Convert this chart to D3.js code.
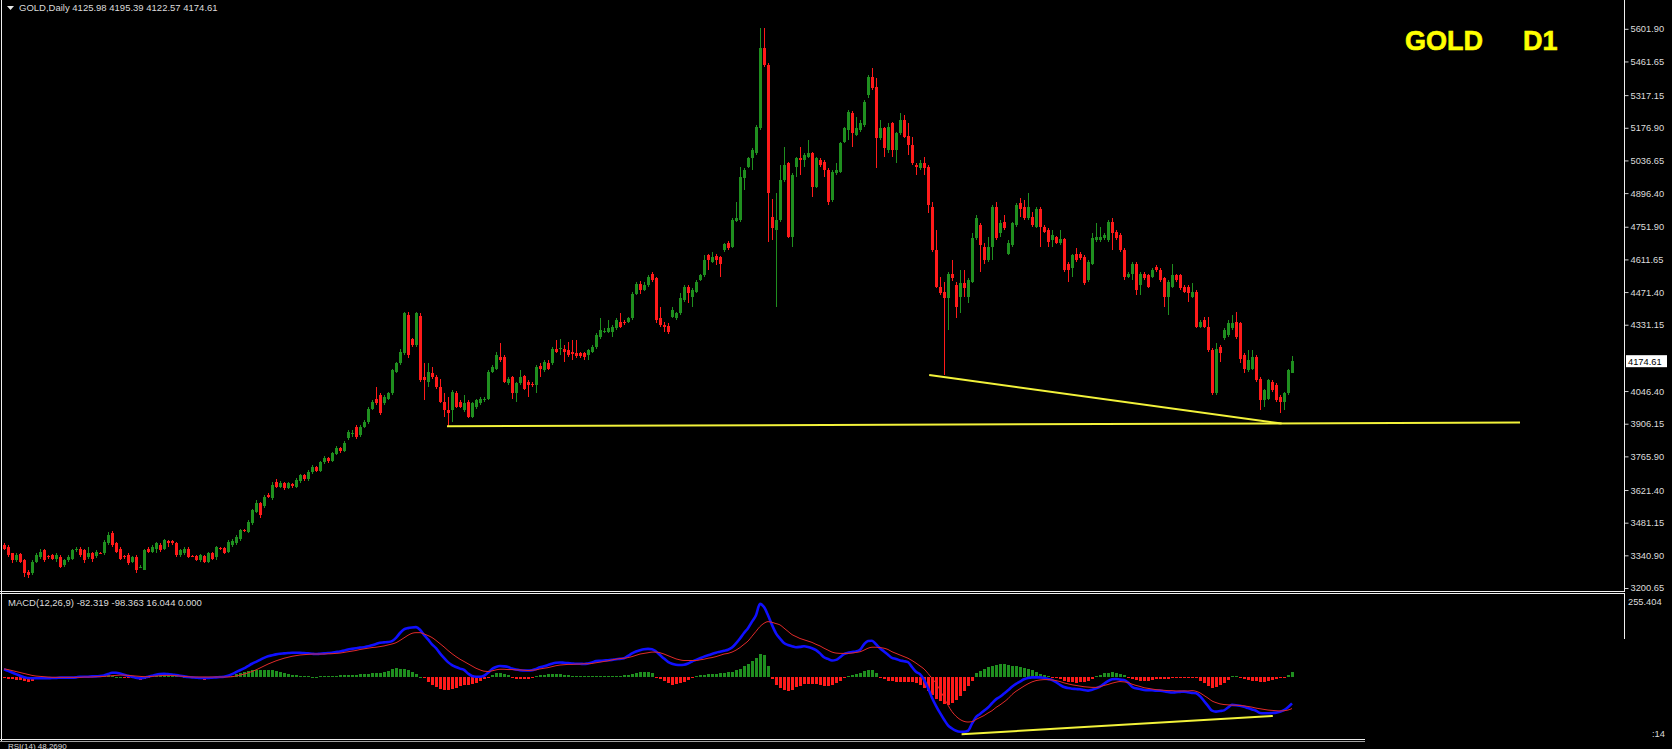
<!DOCTYPE html>
<html><head><meta charset="utf-8">
<script src="https://cdn.jsdelivr.net/npm/d3@7"></script>
<style>html,body{margin:0;padding:0;background:#000;overflow:hidden}svg{display:block}</style>
</head><body>
<script>
// ---------- DATA ----------
const symbolTitle = "GOLD,Daily";
const lastQuote = ["4125.98","4195.39","4122.57","4174.61"];
const macdTitle = "MACD(12,26,9) -82.319 -98.363 16.044 0.000";
const priceTicks = [5601.90,5461.65,5317.15,5176.90,5036.65,4896.40,4751.90,4611.65,4471.40,4331.15,4046.40,3906.15,3765.90,3621.40,3481.15,3340.90,3200.65];
const lastPrice = 4174.61;

const opens = [
3385,3378,3349,3320,3346,3320,3270,3263,3313,3335,
3363,3338,3342,3327,3335,3299,3320,3327,3363,3370,
3363,3335,3349,3338,3352,3349,3392,3435,3392,3370,
3338,3342,3313,3335,3289,3280,3366,3356,3370,3385,
3368,3402,3402,3392,3342,3349,3370,3340,3338,3320,
3338,3313,3352,3335,3372,3373,3356,3385,3392,3409,
3449,3442,3478,3528,3564,3552,3600,3585,3657,3635,
3650,3632,3647,3635,3660,3685,3668,3698,3720,3705,
3740,3760,3748,3778,3800,3790,3843,3860,3893,3857,
3893,3914,3971,4014,4029,3993,4014,4036,4129,4165,
4208,4372,4268,4244,4368,4107,4086,4122,4107,4065,
4000,3964,3964,4039,4000,3964,4000,3936,3979,3993,
4007,4014,4129,4143,4193,4193,4079,4107,4036,4079,
4110,4086,4078,4072,4153,4136,4165,4165,4229,4228,
4229,4222,4215,4211,4208,4208,4201,4215,4236,4279,
4303,4301,4301,4315,4344,4344,4344,4358,4465,4508,
4482,4501,4549,4530,4360,4330,4325,4366,4358,4380,
4437,4494,4451,4473,4525,4544,4630,4602,4626,4620,
4652,4683,4666,4778,4781,4960,5010,5045,5067,5174,
5518,5446,4795,4738,4781,4952,5024,4709,5010,5045,
5038,5053,5067,4924,5038,5031,4995,4866,4981,4988,
5117,5167,5242,5146,5167,5189,5317,5396,5353,5131,
5174,5081,5196,5081,5153,5210,5141,5103,5017,5003,
5024,5010,4838,4652,4494,4473,4444,4551,4502,4451,
4509,4451,4516,4702,4759,4666,4609,4666,4838,4723,
4773,4637,4673,4759,4852,4838,4788,4795,4752,4830,
4752,4738,4695,4706,4680,4698,4594,4573,4637,4637,
4623,4523,4594,4695,4695,4702,4695,4773,4730,4716,
4652,4537,4551,4594,4502,4551,4544,4537,4580,4566,
4530,4451,4494,4544,4544,4494,4494,4451,4473,4322,
4351,4322,4222,4036,4236,4273,4287,4315,4344,4337,
4200,4136,4143,4193,4100,4007,4014,4086,4072,4022,
4000,4036,4125.98];

const highs = [
3392,3385,3352,3349,3352,3327,3277,3320,3349,3368,
3370,3342,3346,3349,3342,3327,3342,3370,3378,3378,
3366,3375,3356,3363,3356,3406,3442,3445,3399,3375,
3342,3349,3338,3342,3299,3366,3375,3385,3399,3392,
3413,3406,3406,3399,3370,3375,3378,3342,3342,3346,
3342,3356,3356,3380,3378,3378,3406,3409,3428,3456,
3456,3492,3542,3578,3571,3600,3607,3657,3668,3662,
3657,3657,3652,3675,3692,3690,3706,3728,3725,3748,
3768,3765,3786,3812,3806,3832,3880,3880,3900,3900,
3920,3978,4007,4065,4036,4029,4043,4143,4172,4229,
4387,4385,4275,4387,4380,4165,4165,4148,4115,4100,
4036,4022,4050,4045,4007,4029,4007,4000,4014,4022,
4022,4136,4158,4215,4251,4200,4107,4110,4086,4136,
4115,4093,4086,4158,4165,4179,4179,4236,4265,4268,
4244,4258,4265,4265,4215,4215,4229,4244,4294,4358,
4315,4351,4330,4358,4380,4351,4365,4472,4516,4520,
4516,4545,4556,4537,4408,4345,4340,4408,4386,4466,
4501,4500,4488,4523,4551,4630,4637,4645,4633,4626,
4684,4690,4788,4860,5010,5003,5053,5088,5190,5604,
5604,5454,4873,4895,5017,5096,5030,4981,5053,5096,
5067,5124,5074,5053,5045,5038,5003,4995,5024,5117,
5181,5253,5250,5224,5210,5296,5403,5432,5389,5210,
5181,5196,5203,5160,5239,5232,5196,5138,5024,5038,
5053,5017,4859,4737,4537,4516,4559,4609,4516,4566,
4566,4530,4723,4802,4766,4680,4709,4845,4859,4781,
4802,4695,4773,4852,4874,4866,4895,4816,4838,4838,
4760,4745,4738,4713,4738,4705,4601,4637,4659,4645,
4630,4609,4723,4766,4752,4723,4781,4788,4737,4723,
4659,4559,4601,4601,4559,4559,4551,4573,4587,4573,
4537,4523,4594,4551,4551,4501,4501,4509,4480,4351,
4365,4365,4230,4251,4243,4315,4351,4372,4387,4344,
4208,4222,4222,4200,4107,4057,4100,4093,4079,4029,
4043,4143,4195.39];

const lows = [
3363,3335,3306,3313,3306,3249,3245,3256,3306,3327,
3313,3327,3320,3313,3285,3292,3313,3320,3356,3335,
3310,3327,3313,3330,3346,3342,3385,3378,3349,3320,
3327,3299,3306,3266,3285,3277,3349,3349,3349,3356,
3363,3378,3385,3335,3335,3342,3330,3332,3318,3313,
3306,3306,3320,3320,3363,3346,3349,3378,3385,3402,
3442,3435,3471,3521,3500,3545,3585,3578,3628,3628,
3620,3625,3632,3628,3652,3660,3662,3690,3698,3700,
3735,3738,3742,3772,3780,3785,3836,3850,3840,3850,
3886,3907,3964,3986,3943,3986,4007,4029,4122,4158,
4200,4190,4236,4236,4086,4007,4065,4100,4057,3993,
3936,3893,3914,3972,3972,3957,3929,3929,3971,3986,
4000,4007,4122,4136,4172,4079,4072,4014,4000,4072,
4050,4022,4065,4036,4107,4129,4136,4158,4208,4201,
4172,4193,4179,4190,4190,4179,4179,4208,4229,4272,
4294,4294,4279,4308,4315,4330,4337,4351,4458,4465,
4475,4494,4516,4340,4320,4300,4290,4358,4350,4372,
4430,4423,4408,4466,4518,4537,4566,4595,4587,4537,
4645,4652,4659,4771,4774,4909,5003,4995,5060,5167,
5440,4688,4695,4408,4774,4945,4702,4666,4967,4974,
5010,5046,4881,4917,5010,4967,4845,4859,4974,4981,
5110,5124,5096,5140,5160,5182,5303,5339,5003,5124,
5053,5067,5053,5024,5146,5131,5060,5017,4974,4995,
4974,4809,4645,4487,4458,4115,4308,4520,4358,4380,
4451,4423,4509,4695,4559,4594,4601,4609,4695,4709,
4738,4630,4666,4752,4795,4781,4781,4752,4745,4666,
4723,4666,4666,4677,4673,4559,4516,4537,4601,4609,
4502,4516,4587,4688,4688,4695,4688,4652,4695,4645,
4523,4530,4523,4458,4458,4523,4487,4530,4559,4516,
4408,4372,4487,4516,4480,4466,4430,4444,4315,4315,
4315,4215,4029,4029,4172,4265,4280,4308,4272,4165,
4122,4130,4136,4086,3964,3979,4007,4043,4000,3950,
3964,4029,4122.57];

const closes = [
3370,3342,3320,3342,3313,3263,3256,3313,3342,3356,
3320,3332,3325,3342,3292,3320,3335,3363,3370,3342,
3320,3352,3327,3356,3349,3399,3428,3385,3356,3327,
3332,3306,3332,3277,3292,3363,3356,3378,3392,3363,
3406,3395,3392,3342,3363,3368,3335,3336,3323,3342,
3313,3352,3327,3375,3370,3352,3399,3402,3418,3449,
3447,3485,3535,3564,3514,3592,3592,3643,3635,3652,
3628,3650,3638,3664,3685,3668,3700,3720,3705,3742,
3760,3748,3780,3800,3790,3825,3871,3868,3850,3893,
3914,3971,4000,3993,3950,4022,4036,4136,4165,4215,
4380,4201,4244,4380,4093,4093,4129,4107,4065,4000,
3964,3950,4043,3979,3979,3993,3936,3993,4007,4014,
4014,4129,4150,4201,4179,4086,4100,4036,4079,4107,
4057,4072,4074,4150,4139,4172,4143,4229,4215,4230,
4215,4201,4205,4196,4196,4193,4222,4236,4287,4308,
4306,4315,4322,4351,4322,4337,4358,4465,4508,4480,
4500,4537,4525,4351,4330,4320,4300,4394,4380,4444,
4494,4466,4480,4516,4544,4609,4609,4620,4609,4594,
4677,4659,4781,4788,4967,4995,5045,5081,5181,5518,
5446,4895,4745,4781,4952,5017,4709,4974,5045,5038,
5060,5067,4924,5045,5017,4995,4859,4988,4995,5110,
5174,5246,5153,5174,5196,5289,5396,5346,5131,5174,
5088,5181,5081,5153,5210,5138,5103,5024,5010,5024,
5003,4845,4652,4494,4466,4444,4551,4530,4408,4509,
4487,4523,4702,4788,4673,4609,4666,4838,4702,4766,
4745,4680,4766,4845,4830,4788,4838,4759,4830,4752,
4730,4688,4716,4684,4698,4566,4566,4630,4609,4616,
4509,4601,4702,4709,4709,4716,4773,4723,4702,4652,
4537,4551,4594,4480,4551,4530,4494,4566,4566,4523,
4451,4516,4544,4523,4487,4473,4466,4473,4322,4344,
4322,4222,4036,4229,4208,4308,4337,4337,4279,4186,
4143,4179,4193,4093,4007,4050,4093,4050,4007,4000,
4036,4136,4174.61];

const macdMain = [
23,18,13,8,3,-2,-4,-5,-5,-5,
-5,-5,-4,-4,-3,-3,-3,-3,-2,0,
0,0,1,1,2,4,8,12,12,10,
6,3,0,-3,-5,-3,0,3,6,8,
9,8,7,5,3,1,-1,-2,-3,-4,
-4,-4,-3,-2,-1,0,3,8,14,20,
26,33,40,46,52,58,63,66,69,71,
72,73,74,74,74,73,72,71,70,71,
72,73,74,76,78,81,84,86,88,90,
91,94,97,101,105,106,107,110,120,135,
146,150,152,153,145,129,115,100,88,72,
58,45,36,30,25,21,10,2,0,0,
3,12,24,30,33,32,30,25,22,20,
19,19,20,24,29,32,36,40,43,44,
43,42,41,40,40,39,41,44,48,49,
50,51,52,54,55,57,64,72,78,82,
85,86,85,78,67,56,46,40,37,36,
37,41,47,52,57,62,66,70,74,77,
80,83,90,103,118,135,150,170,190,225,
215,190,160,134,118,104,98,94,91,92,
94,92,88,82,72,60,55,50,52,60,
70,74,76,78,83,100,110,111,100,88,
78,68,58,55,50,48,45,30,15,8,
-10,-35,-65,-90,-112,-132,-150,-160,-167,-170,
-170,-167,-145,-125,-115,-105,-95,-82,-70,-62,
-52,-42,-31,-22,-15,-8,-4,-2,-2,-2,
-4,-7,-10,-17,-25,-32,-35,-37,-38,-39,
-41,-43,-40,-36,-31,-22,-14,-8,-7,-9,
-10,-18,-31,-36,-38,-41,-42,-42,-43,-43,
-45,-47,-49,-48,-47,-46,-48,-50,-51,-60,
-75,-90,-105,-108,-106,-104,-95,-87,-88,-90,
-93,-97,-101,-105,-112,-113,-113,-112,-111,-108,
-103,-94,-82.319];

const macdSignal = [
24,22,19,16,13,10,7,4,2,1,
0,-1,-2,-2,-2,-2,-2,-2,-2,-2,
-1,-1,-1,0,0,1,2,3,4,5,
5,4,3,2,1,0,0,1,2,3,
4,4,4,3,2,1,0,-1,-1,-1,
-1,-1,-1,-1,-1,-1,-1,0,2,5,
8,12,16,21,27,33,39,44,49,53,
57,60,63,65,67,68,69,70,70,70,
70,71,71,72,73,75,77,79,81,84,
86,88,90,91,93,95,98,101,105,112,
120,128,134,136,136,132,127,121,112,102,
92,81,71,62,54,47,40,33,26,21,
17,16,18,21,23,23,22,22,21,21,
20,19,20,21,24,26,28,31,34,36,
37,38,38,39,39,40,40,41,43,45,
47,49,52,54,56,57,59,62,66,70,
72,74,76,76,74,70,65,60,55,52,
50,50,50,50,52,54,57,59,62,66,
70,72,76,82,90,100,110,125,140,155,
165,170,168,164,160,150,140,130,124,118,
114,110,106,100,95,88,82,76,73,72,
72,72,73,75,77,82,88,91,91,90,
88,84,77,72,67,62,57,50,42,33,
24,10,-5,-20,-41,-64,-88,-108,-122,-132,
-138,-140,-139,-132,-126,-120,-112,-105,-95,-87,
-78,-68,-55,-45,-37,-29,-22,-16,-12,-10,
-9,-9,-10,-12,-15,-19,-22,-25,-27,-29,
-31,-32,-33,-33,-31,-27,-24,-20,-17,-15,
-16,-18,-23,-27,-30,-34,-36,-38,-40,-41,
-42,-43,-43,-44,-44,-44,-44,-43,-45,-50,
-58,-66,-75,-80,-84,-86,-87,-88,-88,-89,
-90,-92,-94,-97,-99,-101,-103,-104,-105,-106,
-105,-103,-98.363];

const macdHist = [
-4,-7,-8,-9,-11,-14,-17,-13,-7,-2,
-1,-1,0,-1,0,0,-1,0,0,1,
1,1,1,3,4,5,4,2,0,0,
-1,-1,-3,-8,-10,-8,-4,2,4,5,
5,4,3,2,1,0,0,-1,-4,-8,
-9,-7,-4,-1,0,1,2,3,8,12,
16,19,21,22,22,22,22,21,18,14,
10,7,5,4,3,2,1,0,0,1,
1,2,2,3,4,5,5,6,6,7,
8,9,10,12,12,14,18,24,28,25,
23,20,16,8,0,-5,-15,-25,-31,-38,
-40,-42,-38,-34,-30,-27,-26,-22,-18,-12,
-6,-1,6,10,10,8,4,-2,-6,-7,
-7,-6,-3,2,4,6,8,9,9,8,
6,4,3,2,1,1,1,2,2,2,
2,2,3,3,3,4,5,8,12,14,
15,14,12,-2,-8,-14,-20,-25,-23,-20,
-15,-10,-5,3,5,6,7,8,9,10,
11,13,16,20,25,32,40,48,58,70,
68,33,-8,-25,-35,-42,-45,-40,-33,-28,
-24,-22,-22,-24,-27,-30,-30,-27,-20,-12,
-5,3,6,9,12,18,22,21,10,-3,
-8,-12,-14,-16,-17,-17,-16,-17,-20,-25,
-35,-45,-58,-68,-76,-84,-87,-82,-72,-60,
-45,-30,-12,10,18,25,30,34,37,39,
38,36,34,32,30,28,25,20,14,9,
5,2,-1,-4,-8,-12,-15,-17,-18,-17,
-16,-12,-8,2,6,10,12,13,11,8,
4,-3,-8,-10,-12,-13,-12,-10,-8,-7,
-6,-6,-5,-4,-4,-4,-5,-5,-5,-12,
-20,-28,-34,-32,-25,-18,-10,3,2,-3,
-6,-9,-12,-14,-16,-15,-13,-11,-8,-5,
-3,4,16.044];

// hand-drawn lines: [candle index, price/value]
const supportIdx = [110.75, 379];
const supportPrice = [3895, 3911];
const fallIdx = [231.3, 319.4];
const fallPrice = [4115, 3907];
const macdTrendIdx = [239.4, 317.2];
const macdTrendVal = [-178, -121];

// ---------- DRAW ----------
const W = 1672, H = 749;
const FONT = "'Liberation Sans', Arial, sans-serif";
const UP = "#1f8f1f", DN = "#ff1a1a", TXT = "#dcdcdc";

const svg = d3.select("body").append("svg").attr("width", W).attr("height", H);
svg.append("rect").attr("width", W).attr("height", H).attr("fill", "#000");

const n = closes.length;
const x = d3.scaleLinear().domain([0, n - 1]).range([4, 1292]);
const y = d3.scaleLinear().domain([3200.65, 5601.90]).range([588, 28.8]);
const ym = d3.scaleLinear().domain([0, 255.404]).range([676.7, 594]);

const defs = svg.append("defs");
defs.append("clipPath").attr("id", "mainClip").append("rect").attr("x", 2).attr("y", 0).attr("width", 1622).attr("height", 591);
defs.append("clipPath").attr("id", "macdClip").append("rect").attr("x", 2).attr("y", 594).attr("width", 1622).attr("height", 145);

// candles
const main = svg.append("g").attr("clip-path", "url(#mainClip)").attr("shape-rendering", "crispEdges");
const idx = d3.range(n);
main.selectAll("line.wick").data(idx).join("line")
  .attr("x1", i => Math.round(x(i)) + 0.5).attr("x2", i => Math.round(x(i)) + 0.5)
  .attr("y1", i => y(highs[i])).attr("y2", i => y(lows[i]))
  .attr("stroke", i => closes[i] >= opens[i] ? UP : DN).attr("stroke-width", 1);
main.selectAll("rect.body").data(idx).join("rect")
  .attr("x", i => Math.round(x(i)) - 1).attr("width", 3)
  .attr("y", i => y(Math.max(opens[i], closes[i])))
  .attr("height", i => Math.max(1, Math.abs(y(opens[i]) - y(closes[i]))))
  .attr("fill", i => closes[i] >= opens[i] ? UP : DN);

// yellow trend lines
const lineGen = d3.line();
main.append("path").attr("d", lineGen(supportIdx.map((d, k) => [x(d), y(supportPrice[k])])))
  .attr("stroke", "#f2f23a").attr("stroke-width", 2).attr("fill", "none").attr("shape-rendering", "auto");
main.append("path").attr("d", lineGen(fallIdx.map((d, k) => [x(d), y(fallPrice[k])])))
  .attr("stroke", "#f2f23a").attr("stroke-width", 2).attr("fill", "none").attr("shape-rendering", "auto");

// price axis
const axis = d3.axisRight(y).tickValues(priceTicks).tickSize(4).tickPadding(2).tickFormat(d3.format(".2f"));
const ag = svg.append("g").attr("transform", "translate(1624.5,0)").call(axis);
ag.select(".domain").remove();
ag.selectAll(".tick line").attr("stroke", "#cfcfcf");
ag.selectAll(".tick text").attr("fill", TXT).style("font-family", FONT).style("font-size", "9.3px");

// current price label
const yl = y(lastPrice);
svg.append("rect").attr("x", 1626).attr("y", yl - 6).attr("width", 41).attr("height", 12).attr("fill", "#fff");
svg.append("text").attr("x", 1628).attr("y", yl + 3.5).text(d3.format(".2f")(lastPrice))
  .attr("fill", "#000").style("font-family", FONT).style("font-size", "9.3px");

// frames
const fr = svg.append("g").attr("stroke", "#f0f0f0").attr("stroke-width", 1).attr("shape-rendering", "crispEdges");
fr.append("line").attr("x1", 1.5).attr("x2", 1.5).attr("y1", 0).attr("y2", 741);
fr.append("line").attr("x1", 1624.5).attr("x2", 1624.5).attr("y1", 0).attr("y2", 591);
fr.append("line").attr("x1", 0).attr("x2", 1625).attr("y1", 591.5).attr("y2", 591.5);
fr.append("line").attr("x1", 0).attr("x2", 1625).attr("y1", 593.5).attr("y2", 593.5);
fr.append("line").attr("x1", 1624.5).attr("x2", 1624.5).attr("y1", 593).attr("y2", 639);
fr.append("line").attr("x1", 0).attr("x2", 1365).attr("y1", 739.5).attr("y2", 739.5);
fr.append("line").attr("x1", 0).attr("x2", 1365).attr("y1", 741.5).attr("y2", 741.5).attr("stroke", "#a0a0a0");

// MACD pane
const mg = svg.append("g").attr("clip-path", "url(#macdClip)");
mg.selectAll("rect.h").data(idx).join("rect")
  .attr("shape-rendering", "crispEdges")
  .attr("x", i => Math.round(x(i)) - 1).attr("width", 3)
  .attr("y", i => Math.min(ym(0), ym(macdHist[i])))
  .attr("height", i => Math.max(1, Math.abs(ym(macdHist[i]) - ym(0))))
  .attr("fill", i => macdHist[i] >= 0 ? UP : DN);
const mline = d3.line().x((d, i) => x(i)).y(d => ym(d)).curve(d3.curveMonotoneX);
mg.append("path").attr("d", mline(macdMain)).attr("fill", "none").attr("stroke", "#1010ff").attr("stroke-width", 2.6);
mg.append("path").attr("d", mline(macdSignal)).attr("fill", "none").attr("stroke", "#e02a2a").attr("stroke-width", 1);
mg.append("path").attr("d", lineGen(macdTrendIdx.map((d, k) => [x(d), ym(macdTrendVal[k])])))
  .attr("stroke", "#f2f23a").attr("stroke-width", 2).attr("fill", "none");

// texts
const t = svg.append("g").style("font-family", FONT);
t.append("path").attr("d", "M7,6 L14,6 L10.5,10 Z").attr("fill", "#e8e8e8");
t.append("text").attr("x", 19).attr("y", 11).attr("fill", TXT).style("font-size", "9.5px")
  .text(symbolTitle + "  " + lastQuote.join(" "));
t.append("text").attr("x", 8).attr("y", 606).attr("fill", TXT).style("font-size", "9.5px").text(macdTitle);
t.append("text").attr("x", 1628).attr("y", 604.5).attr("fill", TXT).style("font-size", "9.3px").text("255.404");
t.append("text").attr("x", 1652).attr("y", 736.5).attr("fill", TXT).style("font-size", "9.3px").text(":14");
t.append("text").attr("x", 8).attr("y", 748.5).attr("fill", TXT).style("font-size", "8px").text("RSI(14) 48.2690");
t.append("text").attr("x", 1405).attr("y", 50).attr("fill", "#ffff00").attr("stroke", "#ffff00").attr("stroke-width", 0.6)
  .style("font-size", "27px").style("font-weight", "bold").text("GOLD");
t.append("text").attr("x", 1523).attr("y", 50).attr("fill", "#ffff00").attr("stroke", "#ffff00").attr("stroke-width", 0.6)
  .style("font-size", "27px").style("font-weight", "bold").text("D1");
</script>
</body></html>
